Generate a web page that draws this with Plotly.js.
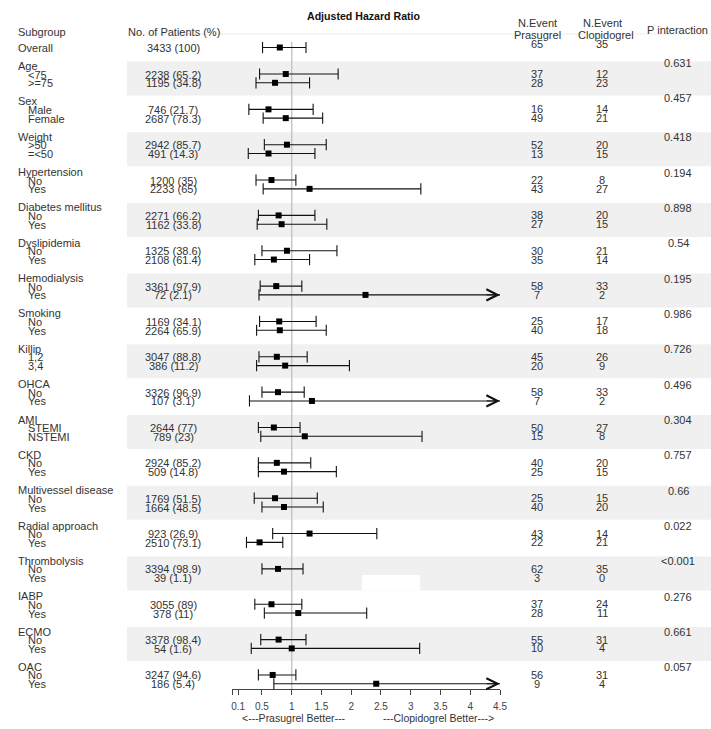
<!DOCTYPE html>
<html>
<head>
<meta charset="utf-8">
<script src="https://cdn.plot.ly/plotly-3.0.1.min.js"></script>
<style>
  html, body { margin: 0; padding: 0; background: #fff; }
  #chart { width: 711px; height: 729px; }
</style>
</head>
<body>
<div id="chart"></div>
<script>
// ---- Subgroup analysis data: adjusted hazard ratios (prasugrel vs clopidogrel) ----
const overallPatients = '3433 (100)';
const overallHR = 0.80, overallLower = 0.51, overallUpper = 1.24;
const overallEventsPrasugrel = 65, overallEventsClopidogrel = 35;

const groupNames = ['Age', 'Sex', 'Weight', 'Hypertension', 'Diabetes mellitus', 'Dyslipidemia',
  'Hemodialysis', 'Smoking', 'Killip', 'OHCA', 'AMI', 'CKD', 'Multivessel disease',
  'Radial approach', 'Thrombolysis', 'IABP', 'ECMO', 'OAC'];

const subgroupLabels = [['&lt;75', '&gt;=75'], ['Male', 'Female'], ['&gt;50', '=&lt;50'], ['No', 'Yes'],
  ['No', 'Yes'], ['No', 'Yes'], ['No', 'Yes'], ['No', 'Yes'], ['1,2', '3,4'], ['No', 'Yes'],
  ['STEMI', 'NSTEMI'], ['No', 'Yes'], ['No', 'Yes'], ['No', 'Yes'], ['No', 'Yes'], ['No', 'Yes'],
  ['No', 'Yes'], ['No', 'Yes']];

const patients = [['2238 (65.2)', '1195 (34.8)'], ['746 (21.7)', '2687 (78.3)'], ['2942 (85.7)', '491 (14.3)'],
  ['1200 (35)', '2233 (65)'], ['2271 (66.2)', '1162 (33.8)'], ['1325 (38.6)', '2108 (61.4)'],
  ['3361 (97.9)', '72 (2.1)'], ['1169 (34.1)', '2264 (65.9)'], ['3047 (88.8)', '386 (11.2)'],
  ['3326 (96.9)', '107 (3.1)'], ['2644 (77)', '789 (23)'], ['2924 (85.2)', '509 (14.8)'],
  ['1769 (51.5)', '1664 (48.5)'], ['923 (26.9)', '2510 (73.1)'], ['3394 (98.9)', '39 (1.1)'],
  ['3055 (89)', '378 (11)'], ['3378 (98.4)', '54 (1.6)'], ['3247 (94.6)', '186 (5.4)']];

const hazardRatio = [[0.90, 0.72], [0.61, 0.90], [0.92, 0.61], [0.66, 1.30], [0.78, 0.83], [0.92, 0.70],
  [0.74, 2.24], [0.79, 0.80], [0.75, 0.89], [0.77, 1.34], [0.70, 1.22], [0.75, 0.87], [0.72, 0.87],
  [1.30, 0.46], [0.77, null], [0.66, 1.11], [0.78, 1.00], [0.68, 2.42]];
const lowerCI = [[0.46, 0.40], [0.28, 0.52], [0.54, 0.27], [0.40, 0.52], [0.44, 0.42], [0.50, 0.38],
  [0.47, 0.45], [0.46, 0.41], [0.45, 0.41], [0.50, 0.29], [0.44, 0.48], [0.44, 0.44], [0.37, 0.50],
  [0.68, 0.24], [0.50, null], [0.38, 0.54], [0.48, 0.32], [0.44, 0.70]];
const upperCI = [[1.78, 1.30], [1.36, 1.52], [1.58, 1.39], [1.07, 3.17], [1.39, 1.59], [1.76, 1.30],
  [1.17, 11.1], [1.41, 1.58], [1.26, 1.97], [1.21, 6.2], [1.14, 3.19], [1.32, 1.75], [1.43, 1.53],
  [2.43, 0.85], [1.19, null], [1.17, 2.26], [1.24, 3.15], [1.07, 8.3]];

const eventsPrasugrel = [[37, 28], [16, 49], [52, 13], [22, 43], [38, 27], [30, 35], [58, 7], [25, 40],
  [45, 20], [58, 7], [50, 15], [40, 25], [25, 40], [43, 22], [62, 3], [37, 28], [55, 10], [56, 9]];
const eventsClopidogrel = [[12, 23], [14, 21], [20, 15], [8, 27], [20, 15], [21, 14], [33, 2], [17, 18],
  [26, 9], [33, 2], [27, 8], [20, 15], [15, 20], [14, 21], [35, 0], [24, 11], [31, 4], [31, 4]];

const pInteraction = ['0.631', '0.457', '0.418', '0.194', '0.898', '0.54', '0.195', '0.986', '0.726',
  '0.496', '0.304', '0.757', '0.66', '0.022', '&lt;0.001', '0.276', '0.661', '0.057'];

const tickValues = [0, 0.1, 0.5, 1, 1.5, 2, 2.5, 3, 3.5, 4, 4.5];
const tickLabels = ['', '0.1', '0.5', '1', '1.5', '2', '2.5', '3', '3.5', '4', '4.5'];
const axisMax = 4.5;

// ---- page geometry (pixels) ----
const W = 711, H = 729;
const FONT = '"Liberation Sans", Arial, Helvetica, sans-serif';
const TXT = '#333333';
const axisLeftPx = 232.2, axisRightPx = 500;
const axisLinePx = 689;
const overallY = 47.5;
const firstRowY = 74, groupStep = 35.35, subStep = 8.8;
const colSubgroup = 17.3, colSubLabel = 27, colPatients = 173.3;
const colPrasugrel = 537, colClopidogrel = 602, colP = 678;

const rowY = (g, k) => firstRowY + groupStep * g + subStep * k;
const px = v => v / W;

const annotations = [];
function label(x, y, text, opt) {
  opt = opt || {};
  annotations.push({
    xref: 'paper', yref: 'y', x: px(x), y: y, text: text, showarrow: false,
    xanchor: opt.anchor || 'center', yanchor: 'middle',
    font: { family: FONT, size: opt.size || 11, color: opt.color || TXT },
    borderpad: 0
  });
}

// column headers
label(364, 15.7, '<b>Adjusted Hazard Ratio</b>', { size: 10.6, color: '#111' });
label(colSubgroup, 31.7, 'Subgroup', { anchor: 'left' });
label(126.7, 31.7, 'No. of Patients (%)', { anchor: 'left' });
label(colPrasugrel, 23, 'N.Event');
label(colPrasugrel, 34.5, 'Prasugrel');
label(colClopidogrel, 23, 'N.Event');
label(606, 34.5, 'Clopidogrel');
label(677, 30, 'P interaction');

// overall row
label(colSubgroup, overallY, 'Overall', { anchor: 'left' });
label(colPatients, overallY, overallPatients);
label(colPrasugrel, 44, String(overallEventsPrasugrel));
label(colClopidogrel, 44, String(overallEventsClopidogrel));

// subgroup rows
const shapes = [];
shapes.push({ type: 'line', xref: 'paper', yref: 'y', x0: px(127), x1: 1, y0: 34, y1: 34,
  line: { color: '#ededed', width: 1 }, layer: 'below' });

groupNames.forEach((name, g) => {
  const top = rowY(g, 0);
  if (g % 2 === 0) {
    shapes.push({ type: 'rect', xref: 'paper', yref: 'y', x0: px(127), x1: 1,
      y0: top - 12.5, y1: top + 21.5, fillcolor: '#f0f0f0', line: { width: 0 }, layer: 'below' });
  }
  label(colSubgroup, top - 8, name, { anchor: 'left' });
  label(colP, top - (g < 2 ? 11.5 : 7.5), pInteraction[g]);
  for (let k = 0; k < 2; k++) {
    const y = rowY(g, k);
    label(colSubLabel, y + 0.5, subgroupLabels[g][k], { anchor: 'left' });
    label(colPatients, y + 0.5, patients[g][k]);
    label(colPrasugrel, y, String(eventsPrasugrel[g][k]));
    label(colClopidogrel, y, String(eventsClopidogrel[g][k]));
  }
});

// blank strip across part of the thrombolysis row
shapes.push({ type: 'rect', xref: 'paper', yref: 'y', x0: px(362), x1: px(420),
  y0: rowY(14, 0) + 6, y1: rowY(14, 0) + 21.5, fillcolor: '#ffffff', line: { width: 0 }, layer: 'below' });

// reference line at HR = 1
shapes.push({ type: 'line', xref: 'x', yref: 'y', x0: 1, x1: 1, y0: 42, y1: axisLinePx,
  line: { color: '#c6c6c6', width: 1.5 }, layer: 'below' });

// axis direction captions
label(293.3, 718.3, '&lt;---Prasugrel Better---', { size: 10.5 });
label(438.3, 718.3, '---Clopidogrel Better---&gt;', { size: 10.5 });

// ---- estimates and intervals ----
const est = [], estY = [], lineX = [], lineY = [], capX = [], capY = [];
function addRow(h, lo, hi, y) {
  if (h === null) return;
  est.push(h); estY.push(y);
  const hiDrawn = Math.min(hi, axisMax);
  lineX.push(lo, hiDrawn, null); lineY.push(y, y, null);
  capX.push(lo); capY.push(y);
  if (hi <= axisMax) { capX.push(hi); capY.push(y); }
  else {
    annotations.push({ xref: 'x', yref: 'y', axref: 'x', ayref: 'y', x: axisMax, y: y,
      ax: axisMax - 0.25, ay: y, text: '', showarrow: true, arrowhead: 5, arrowsize: 2.2,
      arrowwidth: 1, arrowcolor: '#111', standoff: 0, startstandoff: 0 });
  }
}
addRow(overallHR, overallLower, overallUpper, overallY);
groupNames.forEach((_, g) => {
  for (let k = 0; k < 2; k++) addRow(hazardRatio[g][k], lowerCI[g][k], upperCI[g][k], rowY(g, k));
});

const traces = [
  { type: 'scatter', mode: 'lines', x: lineX, y: lineY, line: { color: '#111', width: 1.1 },
    hoverinfo: 'skip', cliponaxis: false, showlegend: false },
  { type: 'scatter', mode: 'markers', x: capX, y: capY, cliponaxis: false, showlegend: false,
    marker: { symbol: 'line-ns', size: 8, color: '#111', line: { color: '#111', width: 1.1 } } },
  { type: 'scatter', mode: 'markers', x: est, y: estY, cliponaxis: false, showlegend: false,
    marker: { symbol: 'square', size: 6, color: '#000', line: { width: 0 } } }
];

const layout = {
  width: W, height: H,
  margin: { l: 0, r: 0, t: 0, b: 0, pad: 0 },
  paper_bgcolor: '#fff', plot_bgcolor: 'rgba(0,0,0,0)',
  showlegend: false,
  font: { family: FONT, color: TXT },
  xaxis: {
    domain: [px(axisLeftPx), px(axisRightPx)], range: [0, axisMax],
    anchor: 'free', position: 1 - axisLinePx / H,
    showline: true, linecolor: '#444', linewidth: 1,
    ticks: 'outside', ticklen: 5, tickwidth: 1, tickcolor: '#444',
    tickmode: 'array', tickvals: tickValues, ticktext: tickLabels,
    tickfont: { family: FONT, size: 10, color: '#444' }, ticklabelstandoff: 3,
    showgrid: false, zeroline: false, fixedrange: true
  },
  yaxis: { domain: [0, 1], range: [H, 0], visible: false, fixedrange: true },
  shapes: shapes,
  annotations: annotations
};

Plotly.newPlot('chart', traces, layout, { displayModeBar: false, staticPlot: true });
</script>
</body>
</html>
